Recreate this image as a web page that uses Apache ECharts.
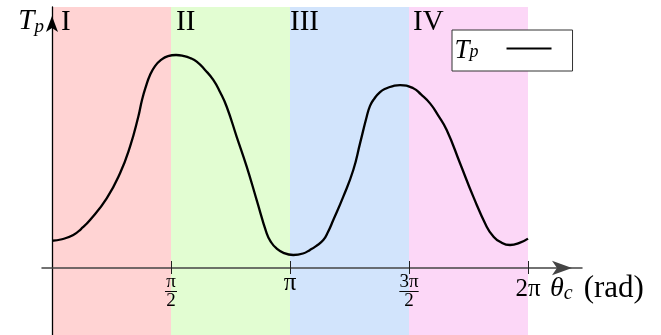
<!DOCTYPE html>
<html>
<head>
<meta charset="utf-8">
<script src="https://cdn.jsdelivr.net/npm/echarts@6/dist/echarts.min.js"></script>
<style>
  html, body { margin: 0; padding: 0; background: #ffffff; }
  #chart { width: 661px; height: 335px; }
</style>
</head>
<body>
<div id="chart"></div>
<script>
const PI = Math.PI;

// Sampled curve: θc (rad) and Tp (normalised so the first peak is 1)
const theta = [0.000, 0.132, 0.281, 0.383, 0.502, 0.722, 0.898, 1.030, 1.139, 1.188, 1.241, 1.294,
               1.360, 1.439, 1.531, 1.637, 1.742, 1.822, 1.910, 2.020, 2.129, 2.218, 2.306, 2.438,
               2.570, 2.702, 2.834, 2.891, 2.957, 3.062, 3.185, 3.313, 3.406, 3.485, 3.581, 3.643,
               3.713, 3.845, 3.977, 4.066, 4.154, 4.198, 4.250, 4.330, 4.409, 4.501, 4.594, 4.769,
               4.871, 4.990, 5.095, 5.210, 5.386, 5.561, 5.738, 5.821, 5.914, 6.046, 6.178, 6.283];
const tp = [0.128, 0.135, 0.155, 0.183, 0.225, 0.327, 0.445, 0.570, 0.710, 0.789, 0.854, 0.906,
            0.948, 0.977, 0.995, 1.000, 0.995, 0.986, 0.969, 0.930, 0.883, 0.826, 0.757, 0.616,
            0.476, 0.319, 0.163, 0.122, 0.094, 0.070, 0.061, 0.068, 0.085, 0.103, 0.131, 0.169,
            0.225, 0.335, 0.460, 0.585, 0.710, 0.761, 0.793, 0.826, 0.843, 0.854, 0.859, 0.844,
            0.815, 0.773, 0.718, 0.648, 0.492, 0.335, 0.194, 0.150, 0.123, 0.108, 0.119, 0.138];

// Tick positions on the θc axis and their labels
const tickValues = [PI / 2, PI, 3 * PI / 2, 2 * PI];
const tickLabels = ['{n|π}\n{hra|}\n{d|2}', '{p|π}', '{n|3π}\n{hrb|}\n{d|2}', '{q|2π}'];

// Quadrant bands
const bandEdges = [0, PI / 2, PI, 3 * PI / 2, 2 * PI];
const bandNames = ['I', 'II', 'III', 'IV'];

const bandColors = ['#ffd3d3', '#e2fdd2', '#d2e4fc', '#fcd7f7'];
const bandLabelOffsets = [9, 5, 0, 4];
const SERIF = '"Liberation Serif", "DejaVu Serif", serif';

// x range chosen so θc = 0 sits at the vertical axis and the arrow ends past 2π
const X_MIN = -0.132;
const X_MAX = 6.996;
const Y_MIN = -0.3146;
const Y_MAX = 1.2254;

const curve = theta.map((t, i) => [t, tp[i]]);

const bands = bandNames.map((name, i) => [
  {
    name: name,
    xAxis: bandEdges[i],
    itemStyle: { color: bandColors[i] },
    label: { position: [bandLabelOffsets[i], 1] }
  },
  { xAxis: bandEdges[i + 1] }
]);

function tickLabel(value) {
  for (let i = 0; i < tickValues.length; i++) {
    if (Math.abs(tickValues[i] - value) < 1e-6) return tickLabels[i];
  }
  return '';
}

const labelRich = {
  n: { fontFamily: SERIF, fontSize: 19, lineHeight: 14, color: '#000', align: 'center' },
  hra: { width: 12, height: 0, lineHeight: 4, borderWidth: 0.8, borderColor: '#000', align: 'center' },
  hrb: { width: 19, height: 0, lineHeight: 4, borderWidth: 0.8, borderColor: '#000', align: 'center' },
  d: { fontFamily: SERIF, fontSize: 19, lineHeight: 16, color: '#000', align: 'center' },
  p: { fontFamily: SERIF, fontSize: 25, lineHeight: 15, color: '#000' },
  q: { fontFamily: SERIF, fontSize: 25, lineHeight: 27, color: '#000' }
};

const xAxisCommon = {
  type: 'value',
  min: X_MIN,
  max: X_MAX,
  position: 'bottom',
  offset: -67,
  splitLine: { show: false },
  z: 2
};

const chart = echarts.init(document.getElementById('chart'), null, { renderer: 'canvas' });

chart.setOption({
  animation: false,
  backgroundColor: '#ffffff',
  grid: { left: 42, right: 79, top: 7, bottom: 0, containLabel: false },
  legend: {
    left: 452,
    top: 30,
    align: 'right',
    icon: 'rect',
    itemWidth: 45,
    itemHeight: 2,
    padding: [2.5, 21, 6.5, 2.5],
    borderColor: '#333',
    borderWidth: 1,
    borderRadius: 0,
    backgroundColor: '#ffffff',
    itemStyle: { color: '#000' },
    data: ['Tp'],
    formatter: () => '{t|T}{s|p}',
    textStyle: {
      rich: {
        t: { fontFamily: SERIF, fontStyle: 'italic', fontSize: 27, lineHeight: 25, padding: [5, 0, 0, 0], color: '#000' },
        s: { fontFamily: SERIF, fontStyle: 'italic', fontSize: 18, lineHeight: 14, verticalAlign: 'bottom', color: '#000', padding: [0, 23, 0, 0] }
      }
    }
  },
  xAxis: [
    Object.assign({}, xAxisCommon, {
      name: '{th|θ}{c|c}{r|(rad)}',
      nameLocation: 'end',
      nameGap: -32,
      nameTextStyle: {
        align: 'left',
        verticalAlign: 'top',
        padding: [5.5, 0, 0, 0],
        rich: {
          th: { fontFamily: SERIF, fontStyle: 'italic', fontSize: 28, lineHeight: 30, color: '#000' },
          c: { fontFamily: SERIF, fontStyle: 'italic', fontSize: 20, lineHeight: 20, verticalAlign: 'bottom', color: '#000', padding: [0, 11, 0, 0] },
          r: { fontFamily: SERIF, fontSize: 31, lineHeight: 30, color: '#000' }
        }
      },
      axisLine: {
        show: true,
        onZero: false,
        lineStyle: { color: '#444', width: 1.5 },
        symbol: ['none', 'arrow'],
        symbolSize: [11, 20],
        symbolOffset: [0, -10]
      },
      axisTick: {
        show: true,
        inside: false,
        length: 6,
        customValues: tickValues,
        lineStyle: { color: '#222', width: 1 }
      },
      axisLabel: {
        show: true,
        margin: 7.5,
        customValues: tickValues,
        formatter: tickLabel,
        rich: labelRich
      }
    }),
    Object.assign({}, xAxisCommon, {
      axisLine: { show: false, onZero: false },
      axisTick: {
        show: true,
        inside: true,
        length: 7,
        customValues: tickValues,
        lineStyle: { color: '#222', width: 1 }
      },
      axisLabel: { show: false }
    })
  ],
  yAxis: {
    type: 'value',
    min: Y_MIN,
    max: Y_MAX,
    z: 2,
    name: '{t|T}{s|p}',
    nameLocation: 'end',
    nameGap: 0,
    nameTextStyle: {
      align: 'right',
      verticalAlign: 'top',
      padding: [0, 8, 0, 0],
      rich: {
        t: { fontFamily: SERIF, fontStyle: 'italic', fontSize: 29, lineHeight: 29, color: '#000' },
        s: { fontFamily: SERIF, fontStyle: 'italic', fontSize: 19, lineHeight: 13, verticalAlign: 'bottom', color: '#000' }
      }
    },
    axisLine: {
      show: true,
      onZero: true,
      lineStyle: { color: '#000', width: 1.3 },
      symbol: ['none', 'arrow'],
      symbolSize: [9, 16],
      symbolOffset: [0, -9]
    },
    axisTick: { show: false },
    axisLabel: { show: false },
    splitLine: { show: false }
  },
  series: [
    {
      name: 'Tp',
      type: 'line',
      xAxisIndex: 0,
      data: curve,
      smooth: 0.5,
      showSymbol: false,
      symbol: 'none',
      z: 3,
      lineStyle: { color: '#000', width: 2.3 },
      itemStyle: { color: '#000' },
      markArea: {
        silent: true,
        z: 1,
        label: {
          show: true,
          color: '#000',
          fontFamily: SERIF,
          fontSize: 29,
          lineHeight: 29
        },
        data: bands
      }
    }
  ]
});
</script>
</body>
</html>
